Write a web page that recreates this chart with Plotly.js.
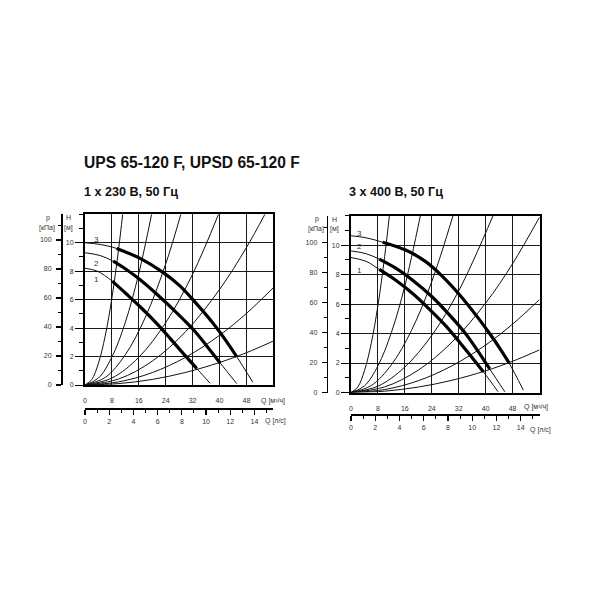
<!DOCTYPE html>
<html>
<head>
<meta charset="utf-8">
<script src="https://cdn.plot.ly/plotly-3.0.1.min.js"></script>
<style>html,body{margin:0;padding:0;background:#fff;}#chart{width:600px;height:600px;}</style>
</head>
<body>
<div id="chart"></div>
<script>
// ---------- DATA ----------
const mainTitle = 'UPS 65-120 F, UPSD 65-120 F';
const leftTitle = '1 x 230 В, 50 Гц';
const rightTitle = '3 x 400 В, 50 Гц';
const curveNames = ['1', '2', '3'];
const qTicks = [0, 8, 16, 24, 32, 40, 48];
const hTicks = [0, 2, 4, 6, 8, 10];

// Left chart: 1 x 230 V  (Q in m3/h, H in m)
const L1_Q = [0, 3.5, 8.1, 12.4, 16.4, 21.3, 25.3, 29.2, 33.2, 37.2];
const L1_H = [8.2, 8.02, 7.3, 6.38, 5.5, 4.33, 3.28, 2.22, 1.17, 0.12];
const L1_thick = [8.1, 33.2];
const L2_Q = [0, 4.5, 8.4, 12.4, 16.4, 21.3, 26.3, 32.2, 36.2, 40.2, 45.1];
const L2_H = [9.3, 9.1, 8.7, 8.1, 7.4, 6.4, 5.3, 3.9, 2.75, 1.55, 0.1];
const L2_thick = [8.4, 40.2];
const L3_Q = [0, 4.5, 9.4, 16.4, 23.3, 28.3, 33.2, 38.2, 42.1, 45.1, 49.9];
const L3_H = [10.0, 9.88, 9.6, 8.9, 7.9, 6.95, 5.7, 4.3, 3.05, 2.0, 0.2];
const L3_thick = [9.4, 45.1];

// Left chart system curves
const LsA_Q = [0, 2, 4, 6, 8, 10, 11.2];  const LsA_H = [0, 0.38, 1.53, 3.44, 6.12, 9.57, 12];
const LsB_Q = [0, 4, 8, 12, 16, 19.8];    const LsB_H = [0, 0.49, 1.96, 4.41, 7.84, 12];
const LsC_Q = [0, 6, 12, 18, 24, 28.5];   const LsC_H = [0, 0.53, 2.13, 4.79, 8.51, 12];
const LsD_Q = [0, 8, 16, 24, 32, 39.7];   const LsD_H = [0, 0.49, 1.95, 4.38, 7.79, 12];
const LsE_Q = [0, 10, 20, 30, 40, 48, 53.5]; const LsE_H = [0, 0.42, 1.68, 3.77, 6.71, 9.66, 12];
const LsF_Q = [0, 10, 20, 30, 40, 48, 56];   const LsF_H = [0, 0.22, 0.87, 1.96, 3.49, 5.03, 6.84];
const LsG_Q = [0, 10, 20, 30, 40, 48, 56];   const LsG_H = [0, 0.1, 0.39, 0.89, 1.58, 2.27, 3.09];

// Right chart: 3 x 400 V
const R1_Q = [0, 4.5, 8.4, 13.4, 18.4, 23.4, 28.3, 33.3, 39.3, 43.7];
const R1_H = [9.16, 8.9, 8.35, 7.6, 6.7, 5.63, 4.49, 3.12, 1.41, 0.05];
const R1_thick = [8.4, 39.3];
const R2_Q = [0, 4.5, 8.4, 13.4, 18.4, 24.3, 29.3, 33.3, 37.3, 41.2, 45.7];
const R2_H = [9.61, 9.42, 9.05, 8.42, 7.6, 6.45, 5.25, 4.2, 2.95, 1.6, 0.05];
const R2_thick = [8.4, 41.2];
const R3_Q = [0, 4.5, 9.4, 16.4, 22.4, 27.3, 32.3, 37.3, 41.5, 44.5, 46.9, 51.2];
const R3_H = [10.64, 10.5, 10.2, 9.65, 8.85, 7.85, 6.62, 5.2, 3.9, 2.9, 2.03, 0.16];
const R3_thick = [9.4, 46.9];

// Right chart system curves
const RsA_Q = [0, 2, 4, 6, 8, 10, 11.4];  const RsA_H = [0, 0.37, 1.48, 3.32, 5.91, 9.23, 12];
const RsB_Q = [0, 4, 8, 12, 16, 20.6];    const RsB_H = [0, 0.45, 1.81, 4.07, 7.24, 12];
const RsC_Q = [0, 6, 12, 18, 24, 30.3];   const RsC_H = [0, 0.47, 1.88, 4.23, 7.53, 12];
const RsD_Q = [0, 8, 16, 24, 32, 42.2];   const RsD_H = [0, 0.43, 1.73, 3.88, 6.9, 12];
const RsE_Q = [0, 10, 20, 30, 40, 48, 56];  const RsE_H = [0, 0.38, 1.52, 3.42, 6.07, 8.74, 11.9];
const RsF_Q = [0, 10, 20, 30, 40, 48, 56];  const RsF_H = [0, 0.2, 0.8, 1.81, 3.22, 4.64, 6.31];
const RsG_Q = [0, 10, 20, 30, 40, 48, 56];  const RsG_H = [0, 0.09, 0.37, 0.83, 1.47, 2.12, 2.89];

// ---------- BUILD ----------
const FONT = 'Liberation Sans, Arial, sans-serif';
const TXT = '#333333';
const traces = [];

function sysCurve(xa, ya, Q, H) {
  traces.push({x: Q, y: H, xaxis: xa, yaxis: ya, mode: 'lines', type: 'scatter',
    line: {color: '#111', width: 1, shape: 'spline', smoothing: 1}, hoverinfo: 'skip'});
}
function pumpCurve(xa, ya, Q, H, thick) {
  traces.push({x: Q, y: H, xaxis: xa, yaxis: ya, mode: 'lines', type: 'scatter',
    line: {color: '#111', width: 1, shape: 'spline', smoothing: 1}, hoverinfo: 'skip'});
  const tq = [], th = [];
  Q.forEach((q, i) => { if (q >= thick[0] && q <= thick[1]) { tq.push(q); th.push(H[i]); } });
  traces.push({x: tq, y: th, xaxis: xa, yaxis: ya, mode: 'lines', type: 'scatter',
    line: {color: '#000', width: 3.2, shape: 'spline', smoothing: 1}, hoverinfo: 'skip'});
}

[[LsA_Q, LsA_H], [LsB_Q, LsB_H], [LsC_Q, LsC_H], [LsD_Q, LsD_H], [LsE_Q, LsE_H], [LsF_Q, LsF_H], [LsG_Q, LsG_H]]
  .forEach(c => sysCurve('x', 'y', c[0], c[1]));
pumpCurve('x', 'y', L1_Q, L1_H, L1_thick);
pumpCurve('x', 'y', L2_Q, L2_H, L2_thick);
pumpCurve('x', 'y', L3_Q, L3_H, L3_thick);

[[RsA_Q, RsA_H], [RsB_Q, RsB_H], [RsC_Q, RsC_H], [RsD_Q, RsD_H], [RsE_Q, RsE_H], [RsF_Q, RsF_H], [RsG_Q, RsG_H]]
  .forEach(c => sysCurve('x2', 'y2', c[0], c[1]));
pumpCurve('x2', 'y2', R1_Q, R1_H, R1_thick);
pumpCurve('x2', 'y2', R2_Q, R2_H, R2_thick);
pumpCurve('x2', 'y2', R3_Q, R3_H, R3_thick);

// empty traces so that secondary axes are drawn
traces.push({x: [], y: [], xaxis: 'x3', yaxis: 'y3', type: 'scatter', mode: 'lines'});
traces.push({x: [], y: [], xaxis: 'x4', yaxis: 'y4', type: 'scatter', mode: 'lines'});

const PX = v => v / 600, PY = v => 1 - v / 600;
const QMAX = 56, HMAX = 12, KPA_PER_M = 9.81, M3H_PER_LS = 3.6;
const tickFont = {family: FONT, size: 7, color: TXT};

function mainX(dom, anchor) {
  return {domain: dom, anchor: anchor, range: [0, QMAX], tickmode: 'array', tickvals: qTicks,
    showgrid: true, gridcolor: '#1a1a1a', gridwidth: 1, zeroline: false, showline: true, mirror: true,
    linecolor: '#000', linewidth: 2, ticks: '', tickfont: tickFont, ticklabelstandoff: 8, fixedrange: true};
}
function mainY(dom, anchor) {
  return {domain: dom, anchor: anchor, range: [0, HMAX], tickmode: 'array', tickvals: hTicks,
    showgrid: true, gridcolor: '#1a1a1a', gridwidth: 1, zeroline: false, showline: true, mirror: true,
    linecolor: '#000', linewidth: 2, ticks: 'outside', ticklen: 8, tickwidth: 1, tickcolor: '#000',
    minor: {tick0: 0, dtick: 1, ticklen: 4, tickwidth: 1, tickcolor: '#000', ticks: 'outside', showgrid: false},
    tickfont: tickFont, fixedrange: true};
}
function pAxis(over, pos) {
  return {overlaying: over, anchor: 'free', position: pos, side: 'left', range: [0, HMAX * KPA_PER_M],
    tickmode: 'linear', tick0: 0, dtick: 20, showgrid: false, zeroline: false, showline: true,
    linecolor: '#000', linewidth: 1.5, ticks: 'outside', ticklen: 5, tickwidth: 1.2, tickcolor: '#000',
    minor: {tick0: 0, dtick: 10, ticklen: 3, tickwidth: 1, tickcolor: '#000', ticks: 'outside', showgrid: false},
    tickfont: tickFont, ticklabelstandoff: 3, fixedrange: true};
}
function lsAxis(over, pos) {
  return {overlaying: over, anchor: 'free', position: pos, side: 'bottom', range: [0, QMAX / M3H_PER_LS],
    tickmode: 'linear', tick0: 0, dtick: 2, showgrid: false, zeroline: false, showline: true,
    linecolor: '#000', linewidth: 1.5, ticks: 'outside', ticklen: 5, tickwidth: 1.2, tickcolor: '#000',
    minor: {tick0: 0, dtick: 1, ticklen: 3, tickwidth: 1, tickcolor: '#000', ticks: 'outside', showgrid: false},
    tickfont: tickFont, ticklabelstandoff: 1, fixedrange: true};
}

const ann = [];
function txt(text, x, y, size, opts) {
  ann.push(Object.assign({text: text, xref: 'paper', yref: 'paper', x: PX(x), y: PY(y), showarrow: false,
    xanchor: 'center', yanchor: 'middle', font: {family: FONT, size: size, color: TXT}}, opts || {}));
}
txt('<b>' + mainTitle + '</b>', 82, 162, 15.6, {xanchor: 'left', font: {family: FONT, size: 15.6, color: '#111'}});
txt('<b>' + leftTitle + '</b>', 82, 192.5, 12.6, {xanchor: 'left', font: {family: FONT, size: 12.6, color: '#111'}});
txt('<b>' + rightTitle + '</b>', 346.5, 192.5, 12.6, {xanchor: 'left', font: {family: FONT, size: 12.6, color: '#111'}});

// axis captions
txt('p', 48, 218, 7); txt('[кПа]', 47, 227.5, 7);
txt('H', 68, 218, 7); txt('[м]', 68, 227.5, 7);
txt('p', 317, 219, 7); txt('[кПа]', 316, 228.5, 7);
txt('H', 334, 219, 7); txt('[м]', 334, 228.5, 7);
txt('Q [м³/ч]', 259, 401, 7, {xanchor: 'left'});
txt('Q [л/с]', 263, 421, 7, {xanchor: 'left'});
txt('Q [м³/ч]', 522, 407, 7, {xanchor: 'left'});
txt('Q [л/с]', 528, 430, 7, {xanchor: 'left'});

// curve numbers (in data coordinates)
const leftLabelPos = [[3.3, 7.43], [3.3, 8.56], [3.5, 10.2]];
const rightLabelPos = [[2.6, 8.3], [2.6, 9.92], [2.6, 10.8]];
curveNames.forEach((n, i) => {
  ann.push({text: n, xref: 'x', yref: 'y', x: leftLabelPos[i][0], y: leftLabelPos[i][1], showarrow: false,
    font: {family: FONT, size: 8, color: TXT}});
  ann.push({text: n, xref: 'x2', yref: 'y2', x: rightLabelPos[i][0], y: rightLabelPos[i][1], showarrow: false,
    font: {family: FONT, size: 8, color: TXT}});
});

const layout = {
  width: 600, height: 600, margin: {l: 0, r: 0, t: 0, b: 0, pad: 0},
  paper_bgcolor: '#fff', plot_bgcolor: 'rgba(0,0,0,0)', showlegend: false,
  font: {family: FONT, size: 7, color: TXT},
  xaxis: mainX([PX(85), PX(273.3)], 'y'),
  yaxis: mainY([PY(385), PY(214.3)], 'x'),
  xaxis2: mainX([PX(351), PX(539.5)], 'y2'),
  yaxis2: mainY([PY(392.5), PY(215.7)], 'x2'),
  yaxis3: pAxis('y', PX(61)),
  xaxis3: lsAxis('x', PY(408.3)),
  yaxis4: pAxis('y2', PX(326.7)),
  xaxis4: lsAxis('x2', PY(414.3)),
  annotations: ann
};

Plotly.newPlot('chart', traces, layout, {staticPlot: true, displayModeBar: false});
</script>
</body>
</html>
